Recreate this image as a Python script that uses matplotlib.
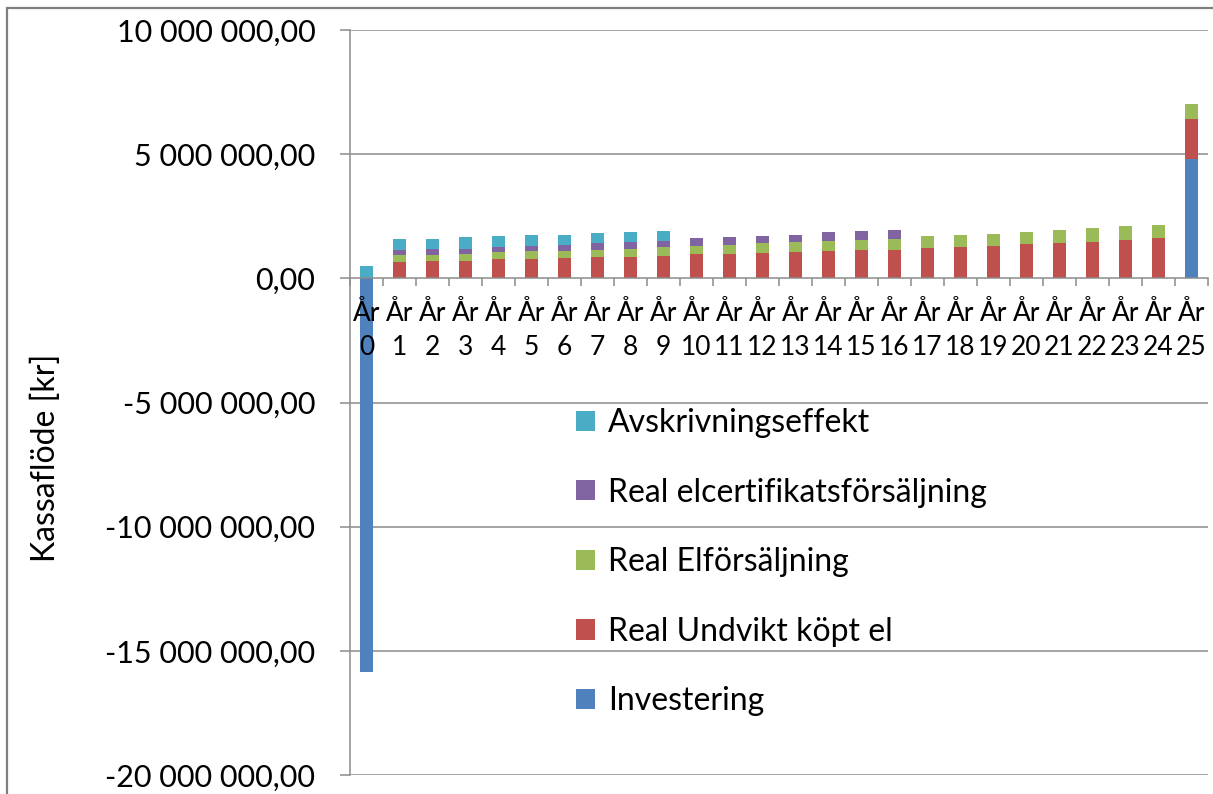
import matplotlib
matplotlib.use("Agg")
import matplotlib.pyplot as plt
from matplotlib.patches import Rectangle
from matplotlib.ticker import FuncFormatter, FixedLocator
import numpy as np

plt.rcParams['font.family'] = ['Lato', 'DejaVu Sans']

years = [f"År\n{i}" for i in range(26)]

# Cash flow components per year [kr]
investering = [-15_850_000] + [0] * 24 + [4_800_000]
undvikt_kopt_el = [0, 660_000, 710_000, 710_000, 760_000, 760_000, 800_000, 860_000,
                   860_000, 910_000, 970_000, 970_000, 1_020_000, 1_060_000, 1_110_000,
                   1_150_000, 1_150_000, 1_210_000, 1_260_000, 1_310_000, 1_370_000,
                   1_410_000, 1_460_000, 1_560_000, 1_610_000, 1_620_000]
elforsaljning = [0, 290_000, 240_000, 290_000, 290_000, 340_000, 300_000, 290_000,
                 340_000, 340_000, 330_000, 390_000, 390_000, 390_000, 390_000,
                 410_000, 450_000, 510_000, 500_000, 490_000, 490_000, 550_000,
                 550_000, 560_000, 550_000, 590_000]
elcertifikat = [0, 200_000, 250_000, 200_000, 200_000, 210_000, 260_000, 260_000,
                250_000, 250_000, 310_000, 290_000, 290_000, 310_000, 350_000,
                340_000, 360_000] + [0] * 9
avskrivning = [480_000, 450_000, 400_000, 450_000, 450_000, 450_000, 400_000, 400_000,
               400_000, 390_000] + [0] * 16

series = [
    ("Investering", investering, "#4F81BD"),
    ("Real Undvikt köpt el", undvikt_kopt_el, "#C0504D"),
    ("Real Elförsäljning", elforsaljning, "#9BBB59"),
    ("Real elcertifikatsförsäljning", elcertifikat, "#8064A2"),
    ("Avskrivningseffekt", avskrivning, "#4BACC6"),
]

W, H = 1213, 794
fig = plt.figure(figsize=(W / 100, H / 100), dpi=100)
ax = fig.add_axes([350 / W, 1 - 775 / H, (1208 - 350) / W, (775 - 30) / H])

x = np.arange(len(years))
pos_base = np.zeros(len(years))
neg_base = np.zeros(len(years))
handles = []
for name, vals, color in series:
    v = np.array(vals, dtype=float)
    bottom = np.where(v >= 0, pos_base, neg_base)
    b = ax.bar(x, v, width=0.4, bottom=bottom, color=color, label=name,
               zorder=1, linewidth=0)
    handles.append(b)
    pos_base += np.where(v > 0, v, 0)
    neg_base += np.where(v < 0, v, 0)

ax.set_xlim(-0.5, len(years) - 0.5)
ax.set_ylim(-20_000_000, 10_000_000)

grid_color = "#8C8C8C"
for yv in np.arange(-20_000_000, 10_000_001, 5_000_000):
    if yv != 0:
        ax.axhline(yv, color=grid_color, lw=1.1, zorder=0.5)

ax.yaxis.set_major_locator(FixedLocator(np.arange(-20_000_000, 10_000_001, 5_000_000)))
ax.yaxis.set_major_formatter(FuncFormatter(
    lambda v, p: f"{v:,.2f}".replace(",", " ").replace(".", ",")))

ax.spines['top'].set_visible(False)
ax.spines['right'].set_visible(False)
ax.spines['left'].set_color(grid_color)
ax.spines['left'].set_linewidth(1.1)
ax.spines['bottom'].set_position(('data', 0))
ax.spines['bottom'].set_color(grid_color)
ax.spines['bottom'].set_linewidth(1.1)

ax.set_xticks(np.arange(-0.5, len(years), 1.0))
ax.set_xticklabels([])
ax.set_xticks(x, minor=True)
ax.set_xticklabels(years, minor=True, linespacing=1.45)
ax.tick_params(axis='x', which='major', length=6, color=grid_color, width=1.1, direction='out')
ax.tick_params(axis='x', which='minor', length=0, pad=16, labelsize=19)
ax.tick_params(axis='y', length=7, color=grid_color, width=1.1, pad=18, labelsize=22)

fig.text(46 / W, 1 - 458 / H, "Kassaflöde [kr]", rotation=90, fontsize=23,
         ha='center', va='center')

leg = ax.legend(handles[::-1], [s[0] for s in series][::-1],
                loc='upper left', bbox_to_anchor=(576 / W, 1 - 408 / H),
                bbox_transform=fig.transFigure, frameon=False, fontsize=23,
                handlelength=0.6, handleheight=0.6, handletextpad=0.4,
                labelspacing=1.24, borderpad=0, borderaxespad=0)

# outer chart frame
fig.patches.append(Rectangle((7 / W, -0.1), 1.2, 1 - 8 / H + 0.1, transform=fig.transFigure,
                             fill=False, edgecolor="#7F7F7F", linewidth=1.6, clip_on=False))

fig.savefig("out.png", dpi=100)
